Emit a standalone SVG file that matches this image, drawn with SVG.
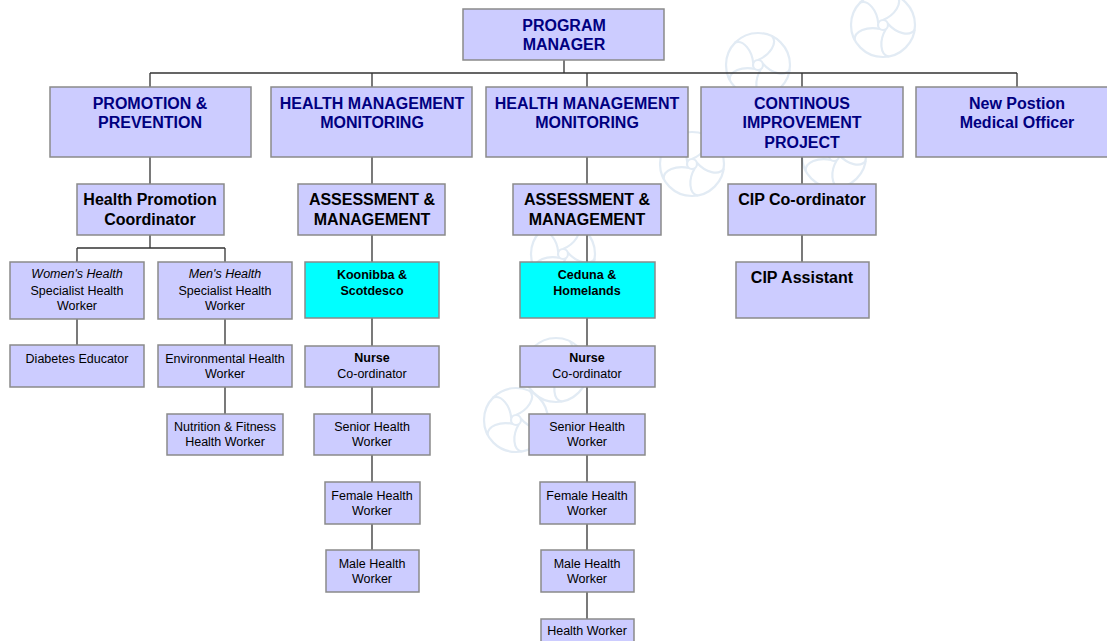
<svg xmlns="http://www.w3.org/2000/svg" width="1107" height="641" viewBox="0 0 1107 641">
<style>
.b{fill:#CCCCFF;stroke:#8a8a8a;stroke-width:1.5}
.c{fill:#00FFFF;stroke:#8a8a8a;stroke-width:1.5}
.t1{font-family:"Liberation Sans",Arial,sans-serif;font-size:16px;font-weight:bold;fill:#000080;text-anchor:middle}
.t2{font-family:"Liberation Sans",Arial,sans-serif;font-size:16px;font-weight:bold;fill:#000;text-anchor:middle}
.t3{font-family:"Liberation Sans",Arial,sans-serif;font-size:12.5px;fill:#000;text-anchor:middle}
.tb{font-weight:bold}
.ti{font-style:italic}
.w{fill:none;stroke:#e2ebf4;stroke-width:2.2}
#connectors path{fill:none;stroke:#333;stroke-width:1.3}
</style>
<defs>
<symbol id="fl" viewBox="-36 -36 72 72" overflow="visible">
<circle class="w" r="32"/>
<circle class="w" r="5"/>
<path class="w" d="M0,-5 C12,-10 20,-22 14,-29"/>
<path class="w" d="M0,-5 C12,-10 20,-22 14,-29" transform="rotate(72)"/>
<path class="w" d="M0,-5 C12,-10 20,-22 14,-29" transform="rotate(144)"/>
<path class="w" d="M0,-5 C12,-10 20,-22 14,-29" transform="rotate(216)"/>
<path class="w" d="M0,-5 C12,-10 20,-22 14,-29" transform="rotate(288)"/>
</symbol>
</defs>
<rect width="1107" height="641" fill="#fff"/>
<g id="watermark">
<use href="#fl" x="847" y="-11" width="72" height="72"/>
<use href="#fl" x="722" y="29" width="72" height="72"/>
<use href="#fl" x="656" y="128" width="72" height="72"/>
<use href="#fl" x="798" y="120" width="72" height="72"/>
<use href="#fl" x="527" y="218" width="72" height="72"/>
<use href="#fl" x="520" y="334" width="72" height="72"/>
<use href="#fl" x="480" y="384" width="72" height="72"/>
</g>
<g id="connectors">
<path d="M564,60V73M150,73H1017M150,73V87M372,73V87M587,73V87M802,73V87M1017,73V87"/>
<path d="M150,157V184M150,235V248M77,248H225M77,248V262M225,248V262M77,319V345M225,319V345M225,387V414"/>
<path d="M372,157V184M372,235V262M372,318V346M372,387V414M372,455V482M372,524V550"/>
<path d="M587,157V184M587,235V262M587,318V346M587,387V414M587,455V482M587,524V550M587,592V619"/>
<path d="M802,157V184M802,235V262"/>
</g>
<g id="program-manager"><rect class="b" x="463" y="9" width="201" height="51"/><text class="t1" x="564" y="31">PROGRAM</text><text class="t1" x="564" y="50">MANAGER</text></g>
<g id="promotion-prevention"><rect class="b" x="50" y="87" width="201" height="70"/><text class="t1" x="150" y="109">PROMOTION &amp;</text><text class="t1" x="150" y="128">PREVENTION</text></g>
<g id="hmm-1"><rect class="b" x="271" y="87" width="201" height="70"/><text class="t1" x="372" y="109">HEALTH MANAGEMENT</text><text class="t1" x="372" y="128">MONITORING</text></g>
<g id="hmm-2"><rect class="b" x="486" y="87" width="202" height="70"/><text class="t1" x="587" y="109">HEALTH MANAGEMENT</text><text class="t1" x="587" y="128">MONITORING</text></g>
<g id="cip"><rect class="b" x="701" y="87" width="202" height="70"/><text class="t1" x="802" y="109">CONTINOUS</text><text class="t1" x="802" y="128">IMPROVEMENT</text><text class="t1" x="802" y="148">PROJECT</text></g>
<g id="new-position"><rect class="b" x="916" y="87" width="202" height="70"/><text class="t1" x="1017" y="109">New Postion</text><text class="t1" x="1017" y="128">Medical Officer</text></g>
<g id="hp-coordinator"><rect class="b" x="77" y="184" width="147" height="51"/><text class="t2" x="150" y="205">Health Promotion</text><text class="t2" x="150" y="225">Coordinator</text></g>
<g id="am-1"><rect class="b" x="298" y="184" width="147" height="51"/><text class="t2" x="372" y="205">ASSESSMENT &amp;</text><text class="t2" x="372" y="225">MANAGEMENT</text></g>
<g id="am-2"><rect class="b" x="513" y="184" width="148" height="51"/><text class="t2" x="587" y="205">ASSESSMENT &amp;</text><text class="t2" x="587" y="225">MANAGEMENT</text></g>
<g id="cip-coordinator"><rect class="b" x="728" y="184" width="148" height="51"/><text class="t2" x="802" y="205">CIP Co-ordinator</text></g>
<g id="cip-assistant"><rect class="b" x="736" y="262" width="133" height="56"/><text class="t2" x="802" y="283">CIP Assistant</text></g>
<g id="womens-health"><rect class="b" x="10" y="262" width="134" height="57"/><text class="t3 ti" x="77" y="278">Women's Health</text><text class="t3" x="77" y="295">Specialist Health</text><text class="t3" x="77" y="310">Worker</text></g>
<g id="mens-health"><rect class="b" x="158" y="262" width="134" height="57"/><text class="t3 ti" x="225" y="278">Men's Health</text><text class="t3" x="225" y="295">Specialist Health</text><text class="t3" x="225" y="310">Worker</text></g>
<g id="diabetes-educator"><rect class="b" x="10" y="345" width="134" height="42"/><text class="t3" x="77" y="363">Diabetes Educator</text></g>
<g id="environmental-health"><rect class="b" x="158" y="345" width="134" height="42"/><text class="t3" x="225" y="363">Environmental Health</text><text class="t3" x="225" y="378">Worker</text></g>
<g id="nutrition-fitness"><rect class="b" x="167" y="414" width="116" height="41"/><text class="t3" x="225" y="431">Nutrition &amp; Fitness</text><text class="t3" x="225" y="446">Health Worker</text></g>
<g id="koonibba"><rect class="c" x="305" y="262" width="134" height="56"/><text class="t3 tb" x="372" y="279">Koonibba &amp;</text><text class="t3 tb" x="372" y="295">Scotdesco</text></g>
<g id="nurse-1"><rect class="b" x="305" y="346" width="134" height="41"/><text class="t3 tb" x="372" y="362">Nurse</text><text class="t3" x="372" y="378">Co-ordinator</text></g>
<g id="senior-1"><rect class="b" x="314" y="414" width="116" height="41"/><text class="t3" x="372" y="431">Senior Health</text><text class="t3" x="372" y="446">Worker</text></g>
<g id="female-1"><rect class="b" x="325" y="482" width="95" height="42"/><text class="t3" x="372" y="500">Female Health</text><text class="t3" x="372" y="515">Worker</text></g>
<g id="male-1"><rect class="b" x="326" y="550" width="93" height="42"/><text class="t3" x="372" y="568">Male Health</text><text class="t3" x="372" y="583">Worker</text></g>
<g id="ceduna"><rect class="c" x="520" y="262" width="135" height="56"/><text class="t3 tb" x="587" y="279">Ceduna &amp;</text><text class="t3 tb" x="587" y="295">Homelands</text></g>
<g id="nurse-2"><rect class="b" x="520" y="346" width="135" height="41"/><text class="t3 tb" x="587" y="362">Nurse</text><text class="t3" x="587" y="378">Co-ordinator</text></g>
<g id="senior-2"><rect class="b" x="529" y="414" width="116" height="41"/><text class="t3" x="587" y="431">Senior Health</text><text class="t3" x="587" y="446">Worker</text></g>
<g id="female-2"><rect class="b" x="540" y="482" width="95" height="42"/><text class="t3" x="587" y="500">Female Health</text><text class="t3" x="587" y="515">Worker</text></g>
<g id="male-2"><rect class="b" x="541" y="550" width="93" height="42"/><text class="t3" x="587" y="568">Male Health</text><text class="t3" x="587" y="583">Worker</text></g>
<g id="health-worker"><rect class="b" x="541" y="619" width="93" height="42"/><text class="t3" x="587" y="635">Health Worker</text></g>
</svg>
